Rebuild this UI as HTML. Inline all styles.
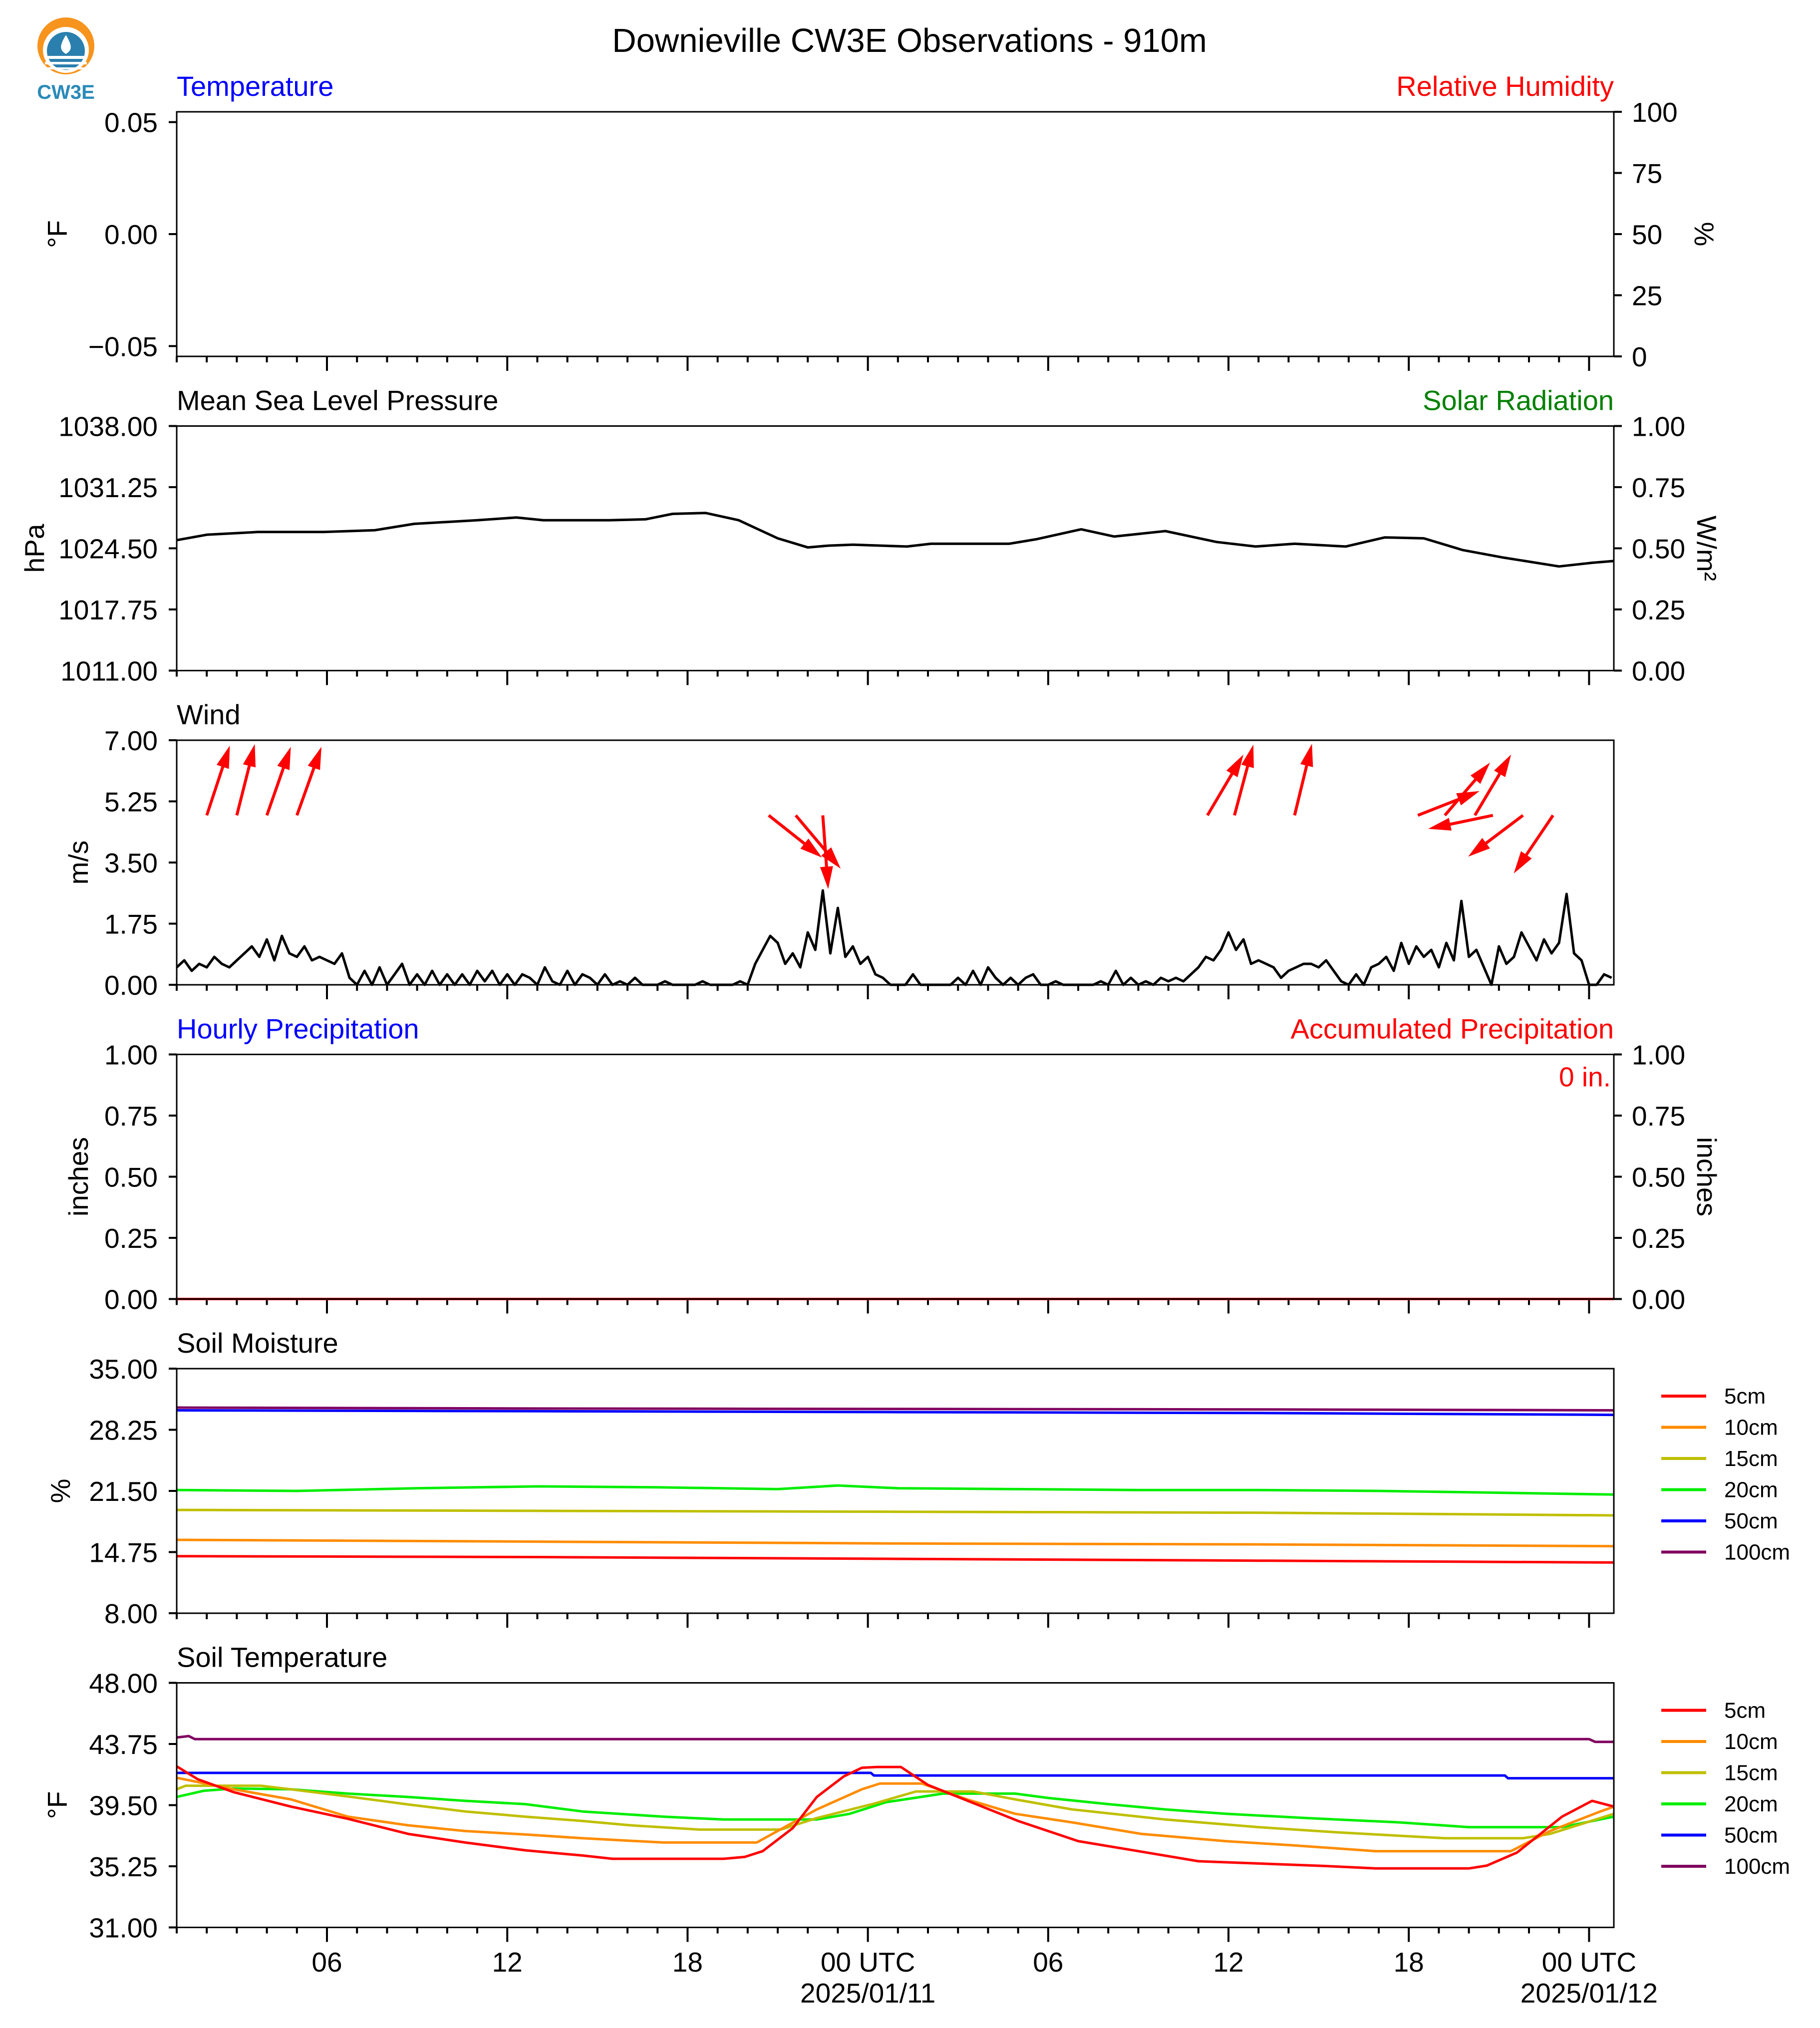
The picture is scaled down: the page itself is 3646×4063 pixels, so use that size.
<!DOCTYPE html>
<html><head><meta charset="utf-8">
<style>
html,body{margin:0;padding:0;background:#fff;}
svg{display:block;font-family:"Liberation Sans",Arial,sans-serif;}
</style></head>
<body>
<svg id="chart" width="3646" height="4063" viewBox="0 0 3646 4063" xmlns="http://www.w3.org/2000/svg">
<g>
  <circle cx="132" cy="92" r="57" fill="#f7941d"/>
  <circle cx="132" cy="100" r="46" fill="#fff"/>
  <circle cx="132" cy="102" r="38" fill="#2a7fae"/>
  <rect x="90" y="112" width="84" height="6" fill="#fff"/>
  <rect x="90" y="124" width="84" height="5" fill="#fff"/>
  <rect x="90" y="135" width="84" height="4" fill="#fff"/>
  <path d="M132 70 C120 90 118 100 132 108 C146 100 144 90 132 70Z" fill="#fff"/>
  <text x="132" y="198" font-size="40" font-weight="bold" fill="#2a8ab8" text-anchor="middle">CW3E</text>
</g>
<text x="1822" y="104" font-size="67" text-anchor="middle">Downieville CW3E Observations - 910m</text>
<g id="plots"></g>
</svg>
<script>
// ---------- DATA ----------
const pressHours = [0,1,2.7,4.9,6.6,7.9,10,11.3,12.2,14.4,15.6,16.5,17.6,18.7,20,21,21.7,22.5,24.3,25.1,27.7,28.6,30.1,31.2,32.9,34.6,35.9,37.2,38.9,40.2,41.5,42.8,44.1,46,47.1,47.83];
const pressVals = [1025.4,1026.0,1026.3,1026.3,1026.5,1027.2,1027.6,1027.9,1027.6,1027.6,1027.7,1028.3,1028.4,1027.6,1025.6,1024.6,1024.8,1024.9,1024.7,1025.0,1025.0,1025.5,1026.6,1025.8,1026.4,1025.2,1024.7,1025.0,1024.7,1025.7,1025.6,1024.3,1023.5,1022.5,1022.9,1023.1];

const windStep = 0.25;
const windSpeed = [
.5,.7,.4,.6, .5,.8,.6,.5, .7,.9,1.1,.8, 1.3,.7,1.4,.9, .8,1.1,.7,.8, .7,.6,.9,.2,
0,.4,0,.5, 0,.3,.6,0, .3,0,.4,0, .3,0,.3,0, .4,.1,.4,0, .3,0,.3,.2,
0,.5,.1,0, .4,0,.3,.2, 0,.3,0,.1, 0,.2,0,0, 0,.1,0,0, 0,0,.1,0,
0,0,0,.1, 0,.6,1.0,1.4, 1.2,.6,.9,.5, 1.5,1.0,2.7,.9, 2.2,.8,1.1,.6, .8,.3,.2,0,
0,0,.3,0, 0,0,0,0, .2,0,.4,0, .5,.2,0,.2, 0,.2,.3,0, 0,.1,0,0,
0,0,0,.1, 0,.4,0,.2, 0,.1,0,.2, .1,.2,.1,.3, .5,.8,.7,1.0, 1.5,1.0,1.3,.6,
.7,.6,.5,.2, .4,.5,.6,.6, .5,.7,.4,.1, 0,.3,0,.5, .6,.8,.4,1.2, .6,1.1,.8,1.0,
.5,1.2,.7,2.4, .8,1.0,.5,0, 1.1,.6,.8,1.5, 1.1,.7,1.3,.9, 1.2,2.6,.9,.7, 0,0,.3,.2];

const arrowHours = [1,2,3,4,19.7,20.6,21.5,34.3,35.2,37.2,41.3,42.2,43.2,43.8,44.8,45.8];
const arrowU = [0.77,0.6,0.8,0.82,1.78,1.5,0.18,1.2,0.63,0.58,2.06,1.51,1.21,-2.16,-1.83,-1.31];
const arrowV = [2.33,2.38,2.29,2.29,-1.41,-1.78,-2.46,2.03,2.36,2.39,0.81,1.76,2.03,-0.45,-1.38,-1.94];

const smHours = [0,12,24,36,47.83];
const sm5 = [14.3,14.2,14.0,13.8,13.6];
const sm10 = [16.1,15.9,15.7,15.6,15.4];
const sm15 = [19.4,19.3,19.2,19.1,18.8];
const sm50 = [30.4,30.3,30.2,30.1,29.9];
const sm100 = [30.7,30.6,30.55,30.5,30.4];
const sm20Hours = [0,4,8,12,16,20,22,24,28,32,36,40,44,47.83];
const sm20 = [21.6,21.5,21.8,22.0,21.9,21.7,22.1,21.8,21.7,21.6,21.6,21.5,21.3,21.1];

const st5H = [0,0.7,1.9,3.8,5.7,7.7,9.6,11.6,13.5,14.5,18.2,18.9,19.5,20.5,21.3,22.2,22.8,23.3,24.1,25,26,28,30,32,34,38.2,39.9,43,43.6,44.6,46.1,47.1,47.83];
const st5V = [42.2,41.3,40.4,39.4,38.55,37.5,36.9,36.36,36.0,35.77,35.77,35.9,36.3,37.9,40.07,41.5,42.1,42.15,42.15,40.9,40.07,38.4,37.0,36.3,35.6,35.27,35.1,35.1,35.3,36.2,38.7,39.8,39.4];
const st10H = [0,1.9,3.8,5.7,7.7,9.6,11.6,13.5,16.2,19.3,21.3,22.8,23.4,24.8,26.3,27.9,29.8,32.1,34.9,37.2,39.9,44.4,45.7,47.3,47.83];
const st10V = [41.4,40.6,39.9,38.7,38.1,37.7,37.46,37.2,36.9,36.9,39.2,40.6,41.0,41.0,39.9,38.9,38.3,37.5,37.0,36.7,36.3,36.3,37.7,39.0,39.4];
const st15H = [0,0.3,2.8,3.8,5.7,7.7,9.6,11.6,13.5,15.1,17.4,20.1,21.3,23.2,24.6,26.5,27.9,29.8,32.9,36,38.7,42.2,44.8,45.7,47.83];
const st15V = [40.6,40.85,40.85,40.6,40.1,39.55,39.06,38.7,38.4,38.1,37.8,37.8,38.6,39.6,40.45,40.45,39.9,39.2,38.5,37.97,37.6,37.2,37.2,37.5,38.9];
const st20H = [0,0.9,1.9,3.8,5.7,7.7,9.6,11.6,13.5,16.2,18.2,21.3,22.4,23.6,25.5,27.9,29,31,32.9,34.9,37.6,40.7,43,46.1,47.83];
const st20V = [40.07,40.5,40.66,40.6,40.3,40.07,39.8,39.57,39.06,38.7,38.5,38.5,38.9,39.7,40.3,40.3,40.0,39.57,39.2,38.9,38.6,38.3,37.97,37.97,38.7];
const st50H = [0,23.1,23.2,44.2,44.3,47.83];
const st50V = [41.74,41.74,41.56,41.56,41.37,41.37];
const st100H = [0,0.4,0.6,47,47.2,47.83];
const st100V = [44.2,44.3,44.09,44.09,43.9,43.9];

const legendLabels = ["5cm","10cm","15cm","20cm","50cm","100cm"];
const hourTickLabels = ["06","12","18","00 UTC","06","12","18","00 UTC"];

// ---------- LAYOUT ----------
const NS="http://www.w3.org/2000/svg";
const L=354, R=3233, H=490, pxHr=60.2;
const tops=[224,853.5,1483,2112.5,2742,3371.5];
const colors=["#ff0000","#ff8c00","#bfbf00","#00ee00","#0000ff","#800060"];
const root=document.getElementById('plots');
function el(tag,attrs,parent){const e=document.createElementNS(NS,tag);for(const k in attrs)e.setAttribute(k,attrs[k]);(parent||root).appendChild(e);return e;}
function xS(h){return L+h*pxHr;}
function mkY(top,min,max){return v=>top+(max-v)/(max-min)*H;}
function txt(s,attrs,parent){const t=el('text',attrs,parent);t.textContent=s;return t;}
function line(hs,vs,y,color,w,name,parent){
  let d='';for(let i=0;i<hs.length;i++){d+=(i?'L':'M')+xS(hs[i]).toFixed(1)+' '+y(vs[i]).toFixed(1);}
  const p=el('path',{d:d,fill:'none',stroke:color,'stroke-width':w,'stroke-linejoin':'round'},parent);
  
  
  return p;
}
function panel(i,cfg){
  const top=tops[i];
  const g=el('g',{});
  
  
  const t1=txt(cfg.title,{x:L,y:top-32,'font-size':56,fill:cfg.titleColor},g);
  
  
  if(cfg.rtitle){const t2=txt(cfg.rtitle,{x:R,y:top-32,'font-size':56,fill:cfg.rtitleColor,'text-anchor':'end'},g);
    
    }
  const y=mkY(top,cfg.min,cfg.max);
  cfg.ticks.forEach(v=>{
    el('line',{x1:L-16,x2:L,y1:y(v),y2:y(v),stroke:'#000','stroke-width':4},g);
    const t=txt(cfg.fmt(v),{x:L-38,y:y(v)+20,'font-size':55,'text-anchor':'end'},g);
    
    
  });
  const yl=txt(cfg.ylabel,{x:0,y:0,'font-size':55,'text-anchor':'middle',transform:`translate(${cfg.ylx},${top+H/2}) rotate(-90)`},g);
  
  
  if(cfg.rticks){
    const yr=mkY(top,cfg.rmin,cfg.rmax);
    cfg.rticks.forEach(v=>{
      el('line',{x1:R,x2:R+16,y1:yr(v),y2:yr(v),stroke:'#000','stroke-width':4},g);
      const t=txt(cfg.rfmt(v),{x:R+36,y:yr(v)+20,'font-size':55},g);
      
      
    });
    const rl=txt(cfg.rlabel,{x:0,y:0,'font-size':55,'text-anchor':'middle',transform:`translate(${cfg.rlx},${top+H/2}) rotate(90)`},g);
    
    
  }
  for(let h=0;h<=47;h++){
    const major=((h+1)%6===0);
    el('line',{x1:xS(h),x2:xS(h),y1:top+H,y2:top+H+(major?29:12),stroke:'#000','stroke-width':4},g);
  }
  const content=el('g',{},g);
  
  
  cfg.draw(content,y);
  el('rect',{x:L,y:top,width:R-L,height:H,fill:'none',stroke:'#000','stroke-width':3},g);
  if(cfg.legend){
    legendLabels.forEach((lab,k)=>{
      const ly=top+55+k*62.5;
      const ln=el('line',{x1:3328,x2:3418,y1:ly,y2:ly,stroke:colors[k],'stroke-width':6},g);
      
      
      const lt=txt(lab,{x:3454,y:ly+15,'font-size':44},g);
      
      
    });
  }
  return g;
}
const f2=v=>v.toFixed(2).replace('-','\u2212');
panel(0,{name:'temperature-panel',title:'Temperature',titleColor:'#0000ff',rtitle:'Relative Humidity',rtitleColor:'#ff0000',
  min:-0.0546,max:0.0546,ticks:[0.05,0,-0.05],fmt:f2,ylabel:'\u00b0F',ylx:134,
  rmin:0,rmax:100,rticks:[0,25,50,75,100],rfmt:v=>String(v),rlabel:'%',rlx:3395,draw:()=>{}});
panel(1,{name:'pressure-panel',title:'Mean Sea Level Pressure',titleColor:'#000',rtitle:'Solar Radiation',rtitleColor:'#008000',
  min:1011,max:1038,ticks:[1011,1017.75,1024.5,1031.25,1038],fmt:f2,ylabel:'hPa',ylx:88,
  rmin:0,rmax:1,rticks:[0,0.25,0.5,0.75,1],rfmt:f2,rlabel:'W/m\u00b2',rlx:3400,
  draw:(g,y)=>{line(pressHours,pressVals,y,'#000',5,'pressure-line',g);}});
panel(2,{name:'wind-panel',title:'Wind',titleColor:'#000',
  min:0,max:7,ticks:[0,1.75,3.5,5.25,7],fmt:f2,ylabel:'m/s',ylx:176,
  draw:(g,y)=>{
    const hs=windSpeed.map((v,i)=>i*windStep);
    line(hs,windSpeed,y,'#000',5,'wind-speed-line',g);
    const sc=60;
    arrowHours.forEach((h,i)=>{
      const x0=xS(h), y0=y(4.85);
      const dx=arrowU[i]*sc, dy=-arrowV[i]*sc;
      const len=Math.hypot(dx,dy), ux=dx/len, uy=dy/len;
      const hl=45, hw=13, sw=3;
      const bx=x0+ux*(len-hl), by=y0+uy*(len-hl);
      const px=-uy, py=ux;
      const pts=[[x0+px*sw,y0+py*sw],[bx+px*sw,by+py*sw],[bx+px*hw,by+py*hw],[x0+dx,y0+dy],[bx-px*hw,by-py*hw],[bx-px*sw,by-py*sw],[x0-px*sw,y0-py*sw]];
      const a=el('polygon',{points:pts.map(p=>p[0].toFixed(1)+','+p[1].toFixed(1)).join(' '),fill:'#ff0000'},g);
      
      
    });
  }});
panel(3,{name:'precipitation-panel',title:'Hourly Precipitation',titleColor:'#0000ff',rtitle:'Accumulated Precipitation',rtitleColor:'#ff0000',
  min:0,max:1,ticks:[0,0.25,0.5,0.75,1],fmt:f2,ylabel:'inches',ylx:176,
  rmin:0,rmax:1,rticks:[0,0.25,0.5,0.75,1],rfmt:f2,rlabel:'inches',rlx:3400,
  draw:(g,y)=>{line([0,47.83],[0,0],y,'#ff0000',5,'accumulated-precip-line',g);
    const t=txt('0 in.',{x:R-6,y:tops[3]+64,'font-size':55,fill:'#ff0000','text-anchor':'end'},g);
    
    }});
panel(4,{name:'soil-moisture-panel',title:'Soil Moisture',titleColor:'#000',
  min:8,max:35,ticks:[8,14.75,21.5,28.25,35],fmt:f2,ylabel:'%',ylx:140,legend:true,
  draw:(g,y)=>{
    line(smHours,sm100,y,colors[5],5,'sm-100cm',g);
    line(smHours,sm50,y,colors[4],5,'sm-50cm',g);
    line(sm20Hours,sm20,y,colors[3],5,'sm-20cm',g);
    line(smHours,sm15,y,colors[2],5,'sm-15cm',g);
    line(smHours,sm10,y,colors[1],5,'sm-10cm',g);
    line(smHours,sm5,y,colors[0],5,'sm-5cm',g);
  }});
panel(5,{name:'soil-temperature-panel',title:'Soil Temperature',titleColor:'#000',
  min:31,max:48,ticks:[31,35.25,39.5,43.75,48],fmt:f2,ylabel:'\u00b0F',ylx:134,legend:true,
  draw:(g,y)=>{
    line(st100H,st100V,y,colors[5],5,'st-100cm',g);
    line(st50H,st50V,y,colors[4],5,'st-50cm',g);
    line(st20H,st20V,y,colors[3],5,'st-20cm',g);
    line(st15H,st15V,y,colors[2],5,'st-15cm',g);
    line(st10H,st10V,y,colors[1],5,'st-10cm',g);
    line(st5H,st5V,y,colors[0],5,'st-5cm',g);
  }});
hourTickLabels.forEach((lab,k)=>{
  const x=xS(5+k*6);
  const t=txt(lab,{x:x,y:3950,'font-size':55,'text-anchor':'middle'});
  
  
});
["2025/01/11","2025/01/12"].forEach((d,k)=>{
  const t=txt(d,{x:xS(23+k*24),y:4012,'font-size':55,'text-anchor':'middle'});
  
  
});
</script>
</body></html>
